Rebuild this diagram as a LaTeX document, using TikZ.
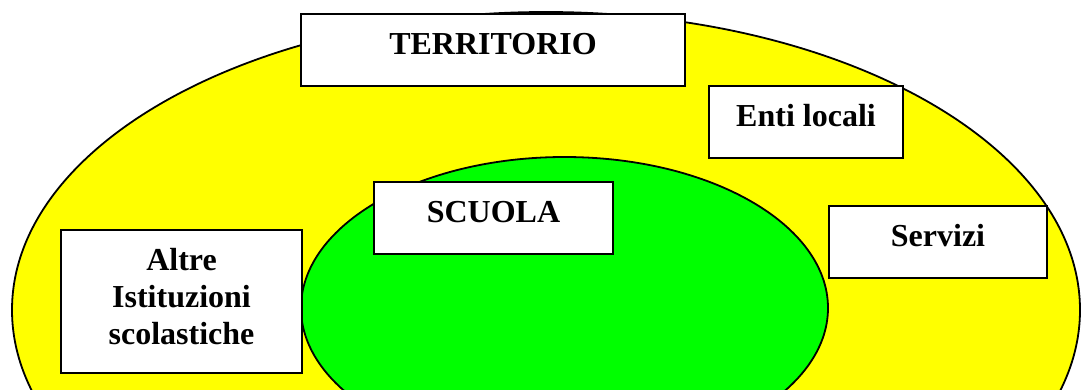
\documentclass[tikz,border=0pt]{standalone}
\usepackage{fontspec}
\setmainfont{Liberation Serif}
\begin{document}
\begin{tikzpicture}[x=1pt,y=-1pt,
  lbl/.style={draw=black, line width=2pt, fill=white, inner sep=0pt,
    anchor=north west, text height=40pt, text depth=32pt, minimum height=72pt,
    font=\bfseries\fontsize{32}{37}\selectfont},
  region/.style={draw=black, line width=1.8pt}]
\useasboundingbox (0,0) rectangle (1081,389);
\begin{scope}
  \clip (0,0) rectangle (1081,389);
  \path[region, fill={rgb,255:red,255;green,255;blue,0}] (546,310) ellipse [x radius=534, y radius=298];
  \path[region, fill={rgb,255:red,0;green,255;blue,0}] (564.5,308) ellipse [x radius=263.5, y radius=151];
\end{scope}
\node[lbl, minimum width=384pt] (territorio) at (300,13) {TERRITORIO};
\node[lbl, minimum width=194pt] (enti) at (708,85) {Enti locali};
\node[lbl, minimum width=239pt] (scuola) at (373,181) {SCUOLA};
\node[lbl, minimum width=218pt] (servizi) at (828,205) {Servizi};
\node[lbl, minimum width=241pt, minimum height=143pt, text height=114pt, text depth=29pt, align=center] (altre) at (60,229) {Altre\\Istituzioni\\scolastiche};
\end{tikzpicture}
\end{document}
